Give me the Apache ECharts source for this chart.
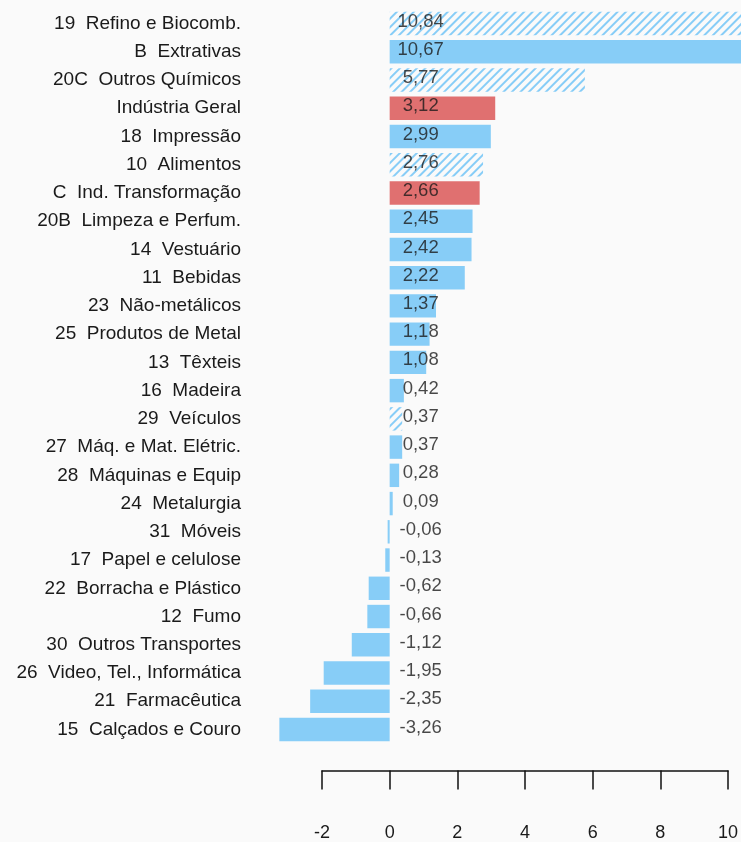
<!DOCTYPE html>
<html>
<head>
<meta charset="utf-8">
<script src="https://cdn.jsdelivr.net/npm/echarts@6/dist/echarts.min.js"></script>
<style>
html,body{margin:0;padding:0;background:#fafafa;}
#chart{width:741px;height:842px;}
</style>
</head>
<body>
<div id="chart"></div>
<script>
// Categories, top to bottom
const categories = [
  "19  Refino e Biocomb.",
  "B  Extrativas",
  "20C  Outros Químicos",
  "Indústria Geral",
  "18  Impressão",
  "10  Alimentos",
  "C  Ind. Transformação",
  "20B  Limpeza e Perfum.",
  "14  Vestuário",
  "11  Bebidas",
  "23  Não-metálicos",
  "25  Produtos de Metal",
  "13  Têxteis",
  "16  Madeira",
  "29  Veículos",
  "27  Máq. e Mat. Elétric.",
  "28  Máquinas e Equip",
  "24  Metalurgia",
  "31  Móveis",
  "17  Papel e celulose",
  "22  Borracha e Plástico",
  "12  Fumo",
  "30  Outros Transportes",
  "26  Video, Tel., Informática",
  "21  Farmacêutica",
  "15  Calçados e Couro"
];
const values = [10.84, 10.67, 5.77, 3.12, 2.99, 2.76, 2.66, 2.45, 2.42, 2.22,
  1.37, 1.18, 1.08, 0.42, 0.37, 0.37, 0.28, 0.09, -0.06, -0.13,
  -0.62, -0.66, -1.12, -1.95, -2.35, -3.26];
// group of each category: 'sector', 'aggregate', 'flagged'
const kinds = ["flagged","sector","flagged","aggregate","sector","flagged","aggregate","sector","sector","sector",
  "sector","sector","sector","sector","flagged","sector","sector","sector","sector","sector",
  "sector","sector","sector","sector","sector","sector"];
const xTicks = [-2, 0, 2, 4, 6, 8, 10];

const BLUE = '#87CDF7';
const RED = '#E07070';
const BG = '#fafafa';

function styleFor(kind) {
  if (kind === 'aggregate') return { color: RED };
  if (kind === 'flagged') return {
    color: BG,
    decal: {
      symbol: 'rect', symbolSize: 1,
      dashArrayX: [1, 0], dashArrayY: [2, 3.5],
      rotation: -Math.PI / 4,
      color: BLUE
    }
  };
  return { color: BLUE };
}

const barData = values.map((v, i) => ({ value: v, itemStyle: styleFor(kinds[i]) }));
const labelData = values.map((v, i) => [0, i]);

const chart = echarts.init(document.getElementById('chart'), null, { renderer: 'canvas' });
chart.setOption({
  backgroundColor: BG,
  animation: false,
  textStyle: { fontFamily: 'Liberation Sans, Arial, sans-serif' },
  grid: { left: 322, right: 13, top: 9.4, bottom: 98.4, containLabel: false },
  xAxis: {
    type: 'value',
    min: xTicks[0], max: xTicks[xTicks.length - 1], interval: 2,
    offset: 27,
    splitLine: { show: false },
    axisLine: { show: true, lineStyle: { color: '#111', width: 1.5 } },
    axisTick: { show: true, length: 19, lineStyle: { color: '#111', width: 1.5 } },
    axisLabel: { fontSize: 18, color: '#1a1a1a', margin: 53, fontFamily: 'Liberation Sans' }
  },
  yAxis: {
    type: 'category',
    data: categories,
    inverse: true,
    axisLine: { show: false },
    axisTick: { show: false },
    splitLine: { show: false },
    axisLabel: { fontSize: 19, color: '#1a1a1a', margin: 81, fontFamily: 'Liberation Sans' }
  },
  series: [
    {
      type: 'bar',
      data: barData,
      barCategoryGap: '17%',
      clip: false,
      silent: true
    },
    {
      type: 'scatter',
      data: labelData,
      symbolSize: 0,
      clip: false,
      silent: true,
      label: {
        show: true,
        position: 'inside',
        offset: [31, -2],
        fontSize: 18.5,
        color: '#1a1a1a',
        fontFamily: 'Liberation Sans',
        formatter: p => values[p.dataIndex].toFixed(2).replace('.', ',')
      }
    }
  ]
});
</script>
</body>
</html>
